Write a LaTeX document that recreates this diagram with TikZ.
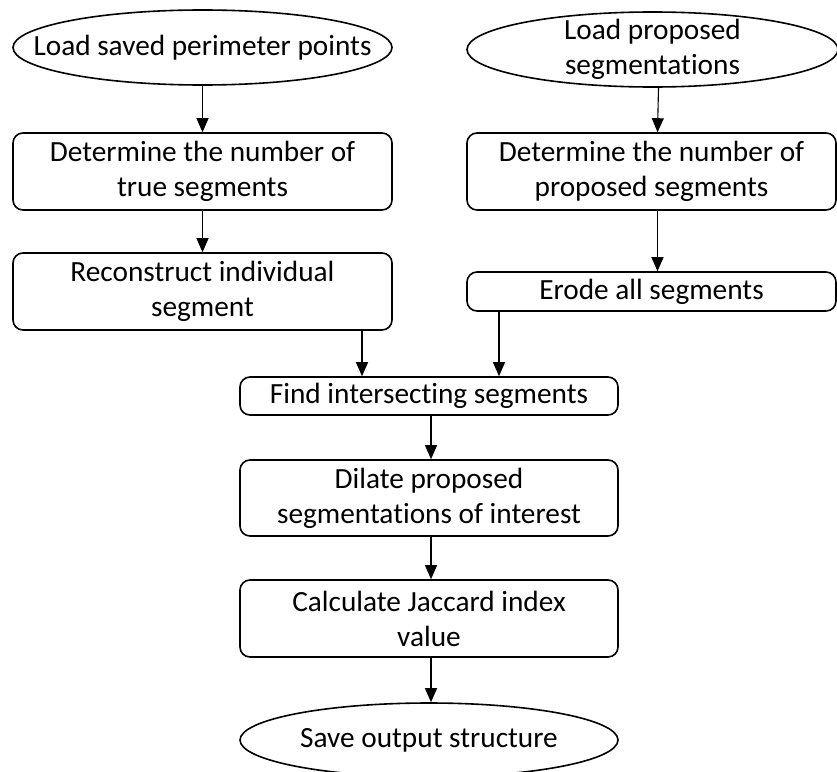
\documentclass[tikz,border=0pt]{standalone}
\usepackage{fontspec}
\setmainfont[Ligatures=NoCommon]{Carlito}
\usetikzlibrary{shapes.geometric,arrows.meta}
\begin{document}
\begin{tikzpicture}[x=1pt,y=-1pt,
  every node/.style={font=\fontsize{29.3}{35}\selectfont, align=center, inner sep=0pt},
  term/.style={draw, line width=1.6pt, ellipse, minimum width=379pt, minimum height=75pt},
  proc/.style={draw, line width=1.6pt, rounded corners=10pt, minimum width=379pt},
  lbl/.style={label={[align=center, font=\fontsize{29.3}{35}\selectfont]center:#1}},
  arr/.style={line width=1.1pt, -{Triangle[width=12pt,length=14pt]}}]
\useasboundingbox (0,0) rectangle (837,771);
\clip (0,0) rectangle (837,771);
\node[term, lbl={Load saved perimeter points}] (e1) at (202.5,47.5) {};
\node[term, minimum width=371pt, lbl={Load proposed\\segmentations}] (e2) at (652.5,49.5) {};
\node[proc, minimum height=77pt] (b1) at (202.5,171.5) {Determine the number of\\true segments};
\node[proc, minimum height=77pt, minimum width=369pt] (b2) at (651.5,171.5) {Determine the number of\\proposed segments};
\node[proc, minimum height=77pt] (b3) at (202.5,291.5) {Reconstruct individual\\segment};
\node[proc, minimum height=39pt, minimum width=369pt] (b4) at (651.5,291.5) {Erode all segments};
\node[proc, minimum height=38pt, minimum width=378pt] (b5) at (429,396) {Find intersecting segments};
\node[proc, minimum height=76pt, minimum width=378pt] (b6) at (429,498) {Dilate proposed\\segmentations of interest};
\node[proc, minimum height=77pt, minimum width=378pt] (b7) at (429,618.5) {Calculate Jaccard index\\value};
\node[term, minimum width=378pt, minimum height=74pt, lbl={Save output structure}] (e3) at (429,740) {};
\draw[arr] (e1) -- (b1);
\draw[arr] (b1) -- (b3);
\draw[arr] ([xshift=6pt]e2.south) -- ([xshift=6pt]b2.north);
\draw[arr] ([xshift=6pt]b2.south) -- ([xshift=6pt]b4.north);
\draw[arr] ([xshift=159.5pt]b3.south) -- (b5.north -| {362,0});
\draw[arr] ([xshift=-152.5pt]b4.south) -- (b5.north -| {499,0});
\draw[arr] ([xshift=2pt]b5.south) -- ([xshift=2pt]b6.north);
\draw[arr] ([xshift=2pt]b6.south) -- ([xshift=2pt]b7.north);
\draw[arr] ([xshift=2pt]b7.south) -- ([xshift=2pt]e3.north);
\end{tikzpicture}
\end{document}
